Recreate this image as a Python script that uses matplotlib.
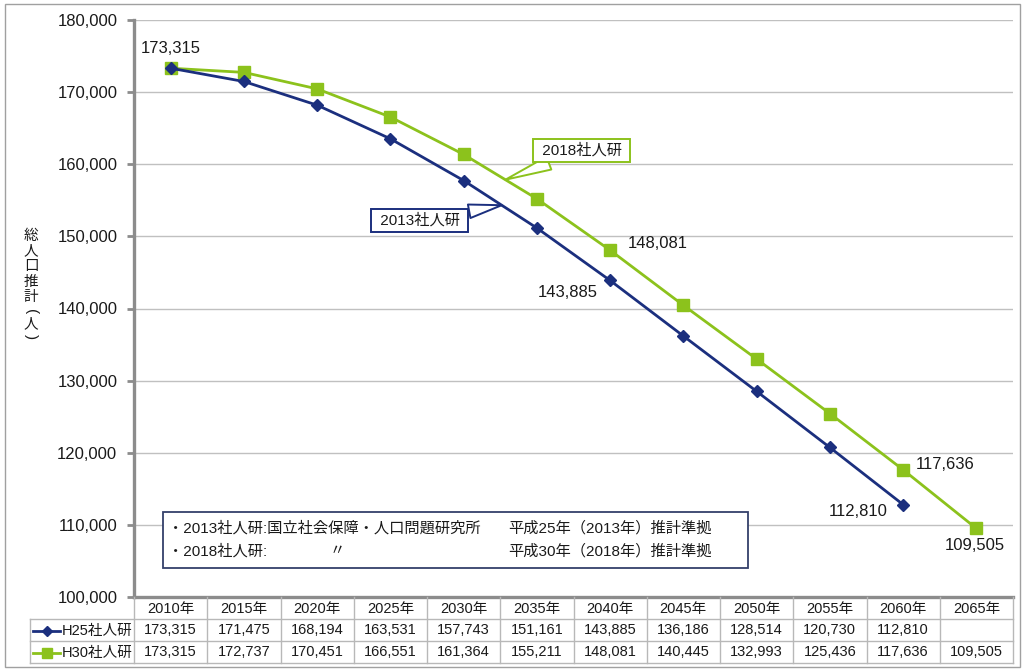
import matplotlib
matplotlib.use('Agg')
import matplotlib.pyplot as plt
import numpy as np
from matplotlib.transforms import blended_transform_factory
from matplotlib.lines import Line2D
from matplotlib.patches import Rectangle
from matplotlib.ticker import FuncFormatter, MultipleLocator

plt.rcParams['font.family'] = ['Liberation Sans', 'Noto Sans CJK JP', 'DejaVu Sans']

# ---------------- data ----------------
years = [2010, 2015, 2020, 2025, 2030, 2035, 2040, 2045, 2050, 2055, 2060, 2065]
year_labels = [f"{y}年" for y in years]
h25 = [173315, 171475, 168194, 163531, 157743, 151161, 143885, 136186, 128514, 120730, 112810, None]
h30 = [173315, 172737, 170451, 166551, 161364, 155211, 148081, 140445, 132993, 125436, 117636, 109505]
series_names = ["H25社人研", "H30社人研"]
callout_names = ["2013社人研", "2018社人研"]
ylabel_chars = ["総", "人", "口", "推", "計", "(", "人", ")"]
note_left = ["・2013社人研:国立社会保障・人口問題研究所", "・2018社人研:"]
note_mid = ["", "〃"]
note_right = ["平成25年（2013年）推計準拠", "平成30年（2018年）推計準拠"]

NAVY = '#1b2f7e'
GREEN = '#8cc21c'
GRID = '#c0c0c0'
AXC = '#8c8c8c'
TXT = '#1a1a1a'

W, H = 1025, 670
fig = plt.figure(figsize=(W / 100, H / 100), dpi=100)


def fx(x):
    return x / W


def fy(y):
    return 1 - y / H


# outer border
fig.patches.append(Rectangle((fx(5), fy(667)), fx(1015), 663 / H, transform=fig.transFigure,
                             fill=False, ec='#a0a0a0', lw=1.0))

ax = fig.add_axes([fx(134), fy(597), fx(1013 - 134), (597 - 20) / H])
x = np.arange(len(years))
ax.set_xlim(-0.5, len(years) - 0.5)
ax.set_ylim(100000, 180000)
ax.yaxis.set_major_locator(MultipleLocator(10000))
ax.yaxis.set_major_formatter(FuncFormatter(lambda v, p: f"{int(v):,}"))
ax.set_xticks([])
for s in ['top', 'right']:
    ax.spines[s].set_visible(False)
for s in ['left', 'bottom']:
    ax.spines[s].set_color(AXC)
    ax.spines[s].set_linewidth(2.4)
ax.tick_params(axis='y', length=5, width=2, color=AXC, labelsize=12, labelcolor=TXT, pad=7)
ax.grid(axis='y', color=GRID, lw=1.0)
ax.set_axisbelow(True)

h25_x = [xi for xi, v in zip(x, h25) if v is not None]
h25_y = [v for v in h25 if v is not None]
ax.plot(h25_x, h25_y, color=NAVY, lw=2.0, marker='D', ms=6, mfc=NAVY, mec=NAVY, zorder=4)
ax.plot(x, h30, color=GREEN, lw=2.0, marker='s', ms=8.5, mfc=GREEN, mec=GREEN, zorder=3)

# data labels
lab_kw = dict(textcoords='offset points', fontsize=12, color=TXT, zorder=6)
ax.annotate(f"{h30[0]:,}", (x[0], h30[0]), xytext=(0, 14.5), ha='center', va='center', **lab_kw)
ax.annotate(f"{h30[6]:,}", (x[6], h30[6]), xytext=(13, 5), ha='left', va='center', **lab_kw)
ax.annotate(f"{h25[6]:,}", (x[6], h25[6]), xytext=(-9, -9), ha='right', va='center', **lab_kw)
ax.annotate(f"{h30[10]:,}", (x[10], h30[10]), xytext=(9, 4), ha='left', va='center', **lab_kw)
ax.annotate(f"{h25[10]:,}", (x[10], h25[10]), xytext=(-11, -5), ha='right', va='center', **lab_kw)
ax.annotate(f"{h30[11]:,}", (x[11], h30[11]), xytext=(-1, -12.5), ha='center', va='center', **lab_kw)

# callouts
ax30 = 4.57
ay30 = np.interp(ax30, x, h30)
ax25 = 4.52
ay25 = np.interp(ax25, h25_x, h25_y)
ax.annotate(" " + callout_names[1] + " ", (ax30, ay30), xytext=(55, 21), textcoords='offset points',
            ha='center', va='center', fontsize=11, color=TXT, zorder=7,
            bbox=dict(boxstyle='square,pad=0.3', fc='white', ec=GREEN, lw=1.4),
            arrowprops=dict(arrowstyle='wedge,tail_width=0.9,shrink_factor=0.5', fc='white', ec=GREEN,
                            lw=1.4, shrinkA=0, shrinkB=0))
ax.annotate(" " + callout_names[0] + " ", (ax25, ay25), xytext=(-59, -11), textcoords='offset points',
            ha='center', va='center', fontsize=11, color=TXT, zorder=7,
            bbox=dict(boxstyle='square,pad=0.3', fc='white', ec=NAVY, lw=1.4),
            arrowprops=dict(arrowstyle='wedge,tail_width=0.9,shrink_factor=0.5', fc='white', ec=NAVY,
                            lw=1.4, shrinkA=0, shrinkB=0))

# note box
fig.patches.append(Rectangle((fx(163), fy(568)), fx(748 - 163), 56 / H, transform=fig.transFigure,
                             fc='white', ec='#34406a', lw=1.3, zorder=5))
for i, yy in enumerate([528, 551]):
    fig.text(fx(168), fy(yy), note_left[i], fontsize=11, color=TXT, va='center', ha='left', zorder=6)
    fig.text(fx(330), fy(yy), note_mid[i], fontsize=11, color=TXT, va='center', ha='left', zorder=6)
    fig.text(fx(508), fy(yy), note_right[i], fontsize=11, color=TXT, va='center', ha='left', zorder=6)

# y label (vertical, one character per line)
ylab_pos = [236, 251, 266, 282, 297, 312, 324, 337]
for ch, yy in zip(ylabel_chars, ylab_pos):
    if ch in "()":
        fig.text(fx(31), fy(yy), ch, fontsize=11, color=TXT, ha='center', va='center', rotation=-90,
                 rotation_mode='anchor', family=['Liberation Sans'])
    else:
        fig.text(fx(31), fy(yy), ch, fontsize=10.5, color=TXT, ha='center', va='center',
                 family=['Noto Sans CJK JP'])

# data table
bt = blended_transform_factory(ax.transData, fig.transFigure)
row_y = [597, 619, 641, 663]
tcol = '#b8b8b8'
for ry in row_y[1:]:
    fig.add_artist(Line2D([fx(30), fx(1013)], [fy(ry), fy(ry)], transform=fig.transFigure, color=tcol, lw=1))
fig.add_artist(Line2D([fx(30), fx(30)], [fy(619), fy(663)], transform=fig.transFigure, color=tcol, lw=1))
for i in range(len(years) + 1):
    xv = i - 0.5
    fig.add_artist(Line2D([xv, xv], [fy(597), fy(663)], transform=bt, color=tcol, lw=1))

tfs = 10.5
for i, lab in enumerate(year_labels):
    fig.text(x[i], fy(608.5), lab, transform=bt, ha='center', va='center', fontsize=tfs, color=TXT)
    if h25[i] is not None:
        fig.text(x[i], fy(630.5), f"{h25[i]:,}", transform=bt, ha='center', va='center', fontsize=tfs, color=TXT)
    fig.text(x[i], fy(652.5), f"{h30[i]:,}", transform=bt, ha='center', va='center', fontsize=tfs, color=TXT)

# legend keys in table
for ry, col, mk, ms, name in [(630.5, NAVY, 'D', 5, series_names[0]), (652.5, GREEN, 's', 7, series_names[1])]:
    fig.add_artist(Line2D([fx(33), fx(60)], [fy(ry), fy(ry)], transform=fig.transFigure, color=col, lw=2.0))
    fig.add_artist(Line2D([fx(47)], [fy(ry)], transform=fig.transFigure, color=col, marker=mk, ms=ms,
                          mfc=col, mec=col, lw=0))
    fig.text(fx(62), fy(ry), name, ha='left', va='center', fontsize=tfs, color=TXT)

fig.savefig('out.png', dpi=100)
